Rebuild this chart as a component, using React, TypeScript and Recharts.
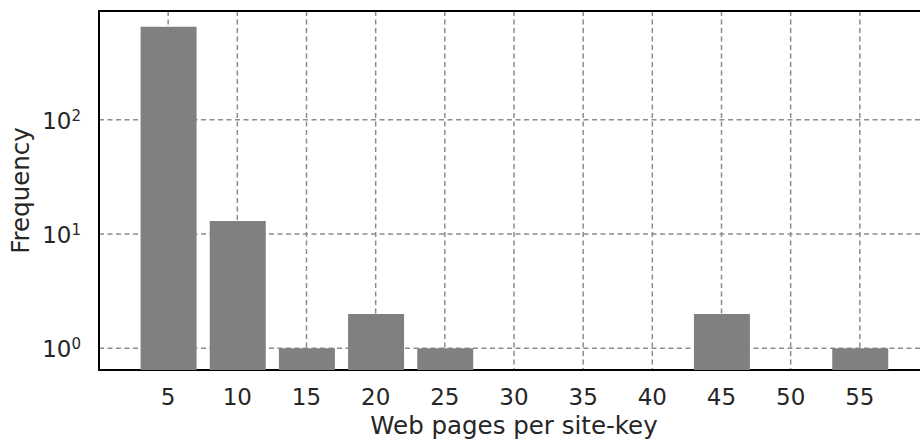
import React from "react";
import {
    BarChart,
    Bar,
    XAxis,
    YAxis,
    CartesianGrid,
    ReferenceArea,
    Label,
} from "recharts";

// histogram of web pages per site-key (log frequency)
const binCenters = [5, 10, 15, 20, 25, 30, 35, 40, 45, 50, 55];
const frequencies = [650, 13, 1, 2, 1, 0, 0, 0, 2, 0, 1];
const yTicks = [1, 10, 100];

const X_MIN = 0;
const X_MAX = 60;
const Y_MIN = 0.646;
const Y_MAX = 893;

const FONT = "DejaVu Sans, sans-serif";
const TEXT = "#262626";
const TICK_SIZE = 23;
const LABEL_SIZE = 24.5;

const data = binCenters.map((c, i) => ({
    bin: c,
    // zero counts can't sit on a log axis, leave them empty
    freq: frequencies[i] > 0 ? frequencies[i] : null,
}));

const LogTick = (props: any) => {
    const { x, y, payload } = props;
    const exp = Math.round(Math.log10(payload.value));
    return (
        <text x={x} y={y + 9} textAnchor="end" fill={TEXT} fontSize={TICK_SIZE} fontFamily={FONT}>
            10
            <tspan dy={-8} fontSize={15}>
                {exp}
            </tspan>
        </text>
    );
};

const YLabel = (props: any) => {
    const vb = props.viewBox;
    const cx = 28.5;
    const cy = vb.y + vb.height / 2;
    return (
        <text
            x={cx}
            y={cy}
            textAnchor="middle"
            transform={`rotate(-90, ${cx}, ${cy})`}
            fill={TEXT}
            fontSize={LABEL_SIZE}
            fontFamily={FONT}
        >
            Frequency
        </text>
    );
};

const XLabel = (props: any) => {
    const vb = props.viewBox;
    return (
        <text x={vb.x + vb.width / 2} y={434} textAnchor="middle" fill={TEXT} fontSize={LABEL_SIZE} fontFamily={FONT}>
            Web pages per site-key
        </text>
    );
};

export default function App() {
    return (
        <div style={{ position: "fixed", left: 0, top: 0, width: 920, height: 441, overflow: "hidden", background: "#fff" }}>
            <BarChart width={940} height={441} data={data} margin={{ top: 11, right: 11, bottom: 0, left: 10 }}>
                <CartesianGrid strokeDasharray="5 3.5" stroke="#8c8c8c" strokeWidth={1.5} />
                <XAxis
                    dataKey="bin"
                    type="number"
                    domain={[X_MIN, X_MAX]}
                    ticks={binCenters}
                    interval={0}
                    allowDataOverflow
                    height={71}
                    axisLine={false}
                    tickLine={false}
                    tickSize={0}
                    tickMargin={19}
                    tick={{ fill: TEXT, fontSize: TICK_SIZE, fontFamily: FONT }}
                >
                    <Label content={<XLabel />} />
                </XAxis>
                <YAxis
                    type="number"
                    scale="log"
                    domain={[Y_MIN, Y_MAX]}
                    ticks={yTicks}
                    allowDataOverflow
                    width={89}
                    axisLine={false}
                    tickLine={false}
                    tickSize={0}
                    tickMargin={18}
                    tick={<LogTick />}
                >
                    <Label content={<YLabel />} />
                </YAxis>
                <Bar dataKey="freq" fill="#808080" barSize={56} isAnimationActive={false} />
                <ReferenceArea
                    x1={X_MIN}
                    x2={X_MAX}
                    y1={Y_MIN}
                    y2={Y_MAX}
                    fill="none"
                    stroke="#000"
                    strokeWidth={2}
                    ifOverflow="visible"
                />
            </BarChart>
        </div>
    );
}
